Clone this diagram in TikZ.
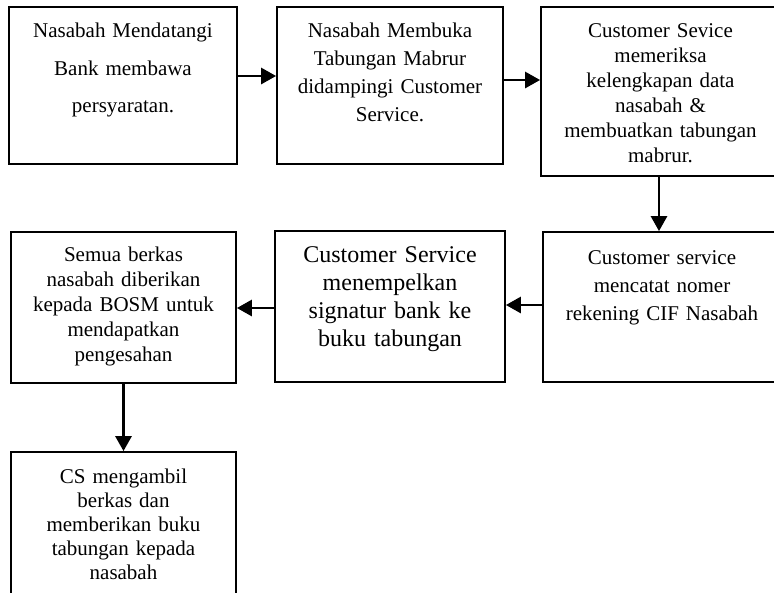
\documentclass[tikz,border=0pt]{standalone}
\usepackage{fontspec}
\setmainfont{Liberation Serif}
\usetikzlibrary{arrows.meta,calc}
\begin{document}
\begin{tikzpicture}[x=1pt,y=-1pt,
  box/.style={draw,line width=1.8pt,inner sep=0pt,rectangle},
  txt/.style={anchor=north,inner sep=0pt,align=center,text width=#1},
  arr/.style={line width=2.8pt,-{Triangle[length=15pt,width=16pt]}}]
\useasboundingbox (0,0) rectangle (774,592);
\clip (0,0) rectangle (774,592);
% boxes
\node[box,minimum width=228pt,minimum height=157pt] (b1) at (123,85.5) {};
\node[box,minimum width=226pt,minimum height=157pt] (b2) at (390,85.5) {};
\node[box,minimum width=239pt,minimum height=169pt] (b3) at (660.5,91.5) {};
\node[box,minimum width=238pt,minimum height=150pt] (b4) at (662,307) {};
\node[box,minimum width=230pt,minimum height=151pt] (b5) at (390,306.5) {};
\node[box,minimum width=225pt,minimum height=151pt] (b6) at (123.5,307.5) {};
\node[box,minimum width=225pt,minimum height=148pt] (b7) at (123.5,526) {};
% texts
\node[txt=220pt,font=\fontsize{21}{37.5}\selectfont] (t1) at ($(b1.north)+(0,17)$)
  {Nasabah Mendatangi\\Bank membawa\\persyaratan.};
\node[txt=220pt,font=\fontsize{21}{28}\selectfont] (t2) at ($(b2.north)+(0,16.5)$)
  {Nasabah Membuka\\Tabungan Mabrur\\didampingi Customer\\Service.};
\node[txt=230pt,font=\fontsize{21}{25}\selectfont] (t3) at ($(b3.north)+(0,17)$)
  {Customer Sevice\\memeriksa\\kelengkapan data\\nasabah \&\\membuatkan tabungan\\mabrur.};
\node[txt=230pt,font=\fontsize{21}{28}\selectfont] (t4) at ($(b4.north)+(0,19)$)
  {Customer service\\mencatat nomer\\rekening CIF Nasabah};
\node[txt=222pt,font=\fontsize{24}{28}\selectfont] (t5) at ($(b5.north)+(0,16.7)$)
  {Customer Service\\menempelkan\\signatur bank ke\\buku tabungan};
\node[txt=218pt,font=\fontsize{21}{25}\selectfont] (t6) at ($(b6.north)+(0,16)$)
  {Semua berkas\\nasabah diberikan\\kepada BOSM untuk\\mendapatkan\\pengesahan};
\node[txt=218pt,font=\fontsize{21}{24}\selectfont] (t7) at ($(b7.north)+(0,18)$)
  {CS mengambil\\berkas dan\\memberikan buku\\tabungan kepada\\nasabah};
% connectors
\coordinate (c1) at ($(b1.east)+(0,-9.5)$);
\coordinate (c2) at ($(b2.east)+(0,-5.5)$);
\coordinate (c3) at ($(b3.south)+(-1.5,0)$);
\coordinate (c4) at ($(b4.west)+(0,-2)$);
\coordinate (c5) at ($(b5.west)+(0,1.5)$);
\coordinate (c6) at (b6.south);
\draw[arr] (c1) -- (c1 -| b2.west);
\draw[arr] (c2) -- (c2 -| b3.west);
\draw[arr] (c3) -- (c3 |- b4.north);
\draw[arr] (c4) -- (c4 -| b5.east);
\draw[arr] (c5) -- (c5 -| b6.east);
\draw[arr] (c6) -- (c6 |- b7.north);
\end{tikzpicture}
\end{document}
